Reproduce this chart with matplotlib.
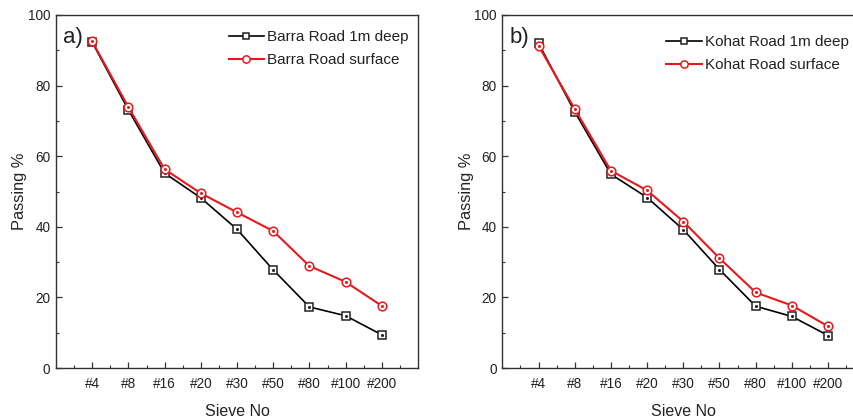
import matplotlib
matplotlib.use("Agg")
import matplotlib.pyplot as plt
from matplotlib.ticker import MultipleLocator, FixedLocator

plt.rcParams['font.family'] = ['Liberation Sans', 'DejaVu Sans']

sieves = ["#4", "#8", "#16", "#20", "#30", "#50", "#80", "#100", "#200"]

barra_deep = [92.3, 73.1, 55.2, 48.2, 39.3, 27.8, 17.3, 14.8, 9.4]
barra_surface = [92.5, 73.9, 56.3, 49.5, 44.1, 38.8, 28.9, 24.4, 17.6]

kohat_deep = [92.0, 72.6, 54.9, 48.3, 39.2, 27.9, 17.5, 14.6, 9.2]
kohat_surface = [91.3, 73.4, 55.9, 50.3, 41.5, 31.1, 21.4, 17.7, 11.8]

panels = [
    ("a)", "Barra Road", barra_deep, barra_surface),
    ("b)", "Kohat Road", kohat_deep, kohat_surface),
]

W, H = 854, 420
fig = plt.figure(figsize=(W / 100, H / 100), dpi=100)

ax_lefts = [56, 502.3]
legend_anchor = [(409, 30), (849, 35)]
ax_width = 362
ax_bottom = H - 368
ax_height = 368 - 15

text_col = "#222222"

for (tag, road, deep, surf), left, (lx, ly) in zip(panels, ax_lefts, legend_anchor):
    ax = fig.add_axes([left / W, ax_bottom / H, ax_width / W, ax_height / H])
    x = list(range(1, len(sieves) + 1))

    ax.plot(x, deep, color="black", lw=1.2, marker="s", ms=5.2,
            mfc="white", mec="#222222", mew=1.1, label=f"{road} 1m deep", zorder=3)
    ax.plot(x, deep, ls="none", marker="o", ms=1.2, color="#222222", zorder=4)
    ax.plot(x, surf, color="#e8191c", lw=1.5, marker="o", ms=6.2,
            mfc="white", mec="#e8191c", mew=1.1, label=f"{road} surface", zorder=5)
    ax.plot(x, surf, ls="none", marker="o", ms=1.2, color="#e8191c", zorder=6)

    ax.set_xlim(0, 10)
    ax.set_ylim(0, 100)
    ax.xaxis.set_major_locator(FixedLocator(x))
    ax.set_xticklabels(sieves)
    ax.xaxis.set_minor_locator(MultipleLocator(0.5))
    ax.yaxis.set_major_locator(MultipleLocator(20))
    ax.yaxis.set_minor_locator(MultipleLocator(10))
    ax.tick_params(which="both", direction="in", top=False, right=False,
                   colors="#333333", labelcolor=text_col, labelsize=9.8)
    ax.tick_params(which="major", length=4, width=0.9)
    ax.tick_params(which="minor", length=2.2, width=0.8)
    ax.tick_params(axis="x", which="major", pad=6.5)
    ax.tick_params(axis="y", which="major", pad=4)
    for sp in ax.spines.values():
        sp.set_linewidth(1.0)
        sp.set_color("#333333")

    ax.set_xlabel("Sieve No", fontsize=11.5, color=text_col)
    ax.set_ylabel("Passing %", fontsize=11.8, color=text_col)
    ax.xaxis.set_label_coords(0.5, -0.101)
    ax.yaxis.set_label_coords(-0.079, 0.5)

    ax.text(0.02, 0.935, tag, transform=ax.transAxes, fontsize=16,
            color=text_col, va="center", ha="left")

    leg = ax.legend(loc="upper right", frameon=False, fontsize=11,
                    handlelength=2.35, handletextpad=0.2, labelspacing=0.62,
                    borderaxespad=0.0, borderpad=0.0, markerscale=0.85,
                    bbox_to_anchor=(lx / W, (H - ly) / H),
                    bbox_transform=fig.transFigure)
    for t in leg.get_texts():
        t.set_color(text_col)

fig.savefig("out.png", dpi=100)
